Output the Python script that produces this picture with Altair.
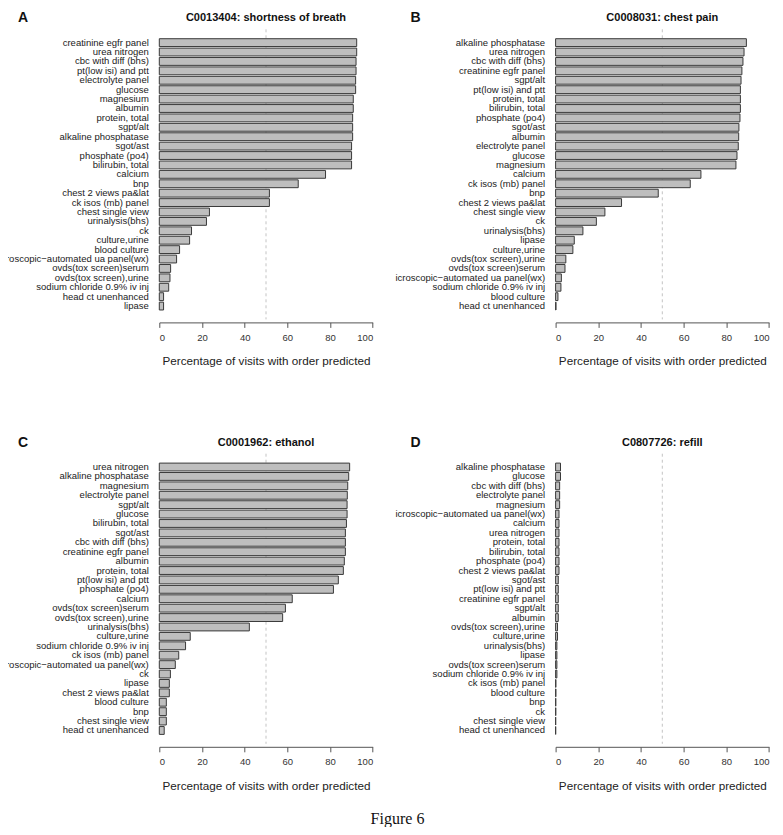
import altair as alt
import pandas as pd

# ---------------- data ----------------
A_labels = ["creatinine egfr panel", "urea nitrogen", "cbc with diff (bhs)\u00a0", "pt(low isi) and ptt",
            "electrolyte panel", "glucose", "magnesium", "albumin", "protein, total", "sgpt/alt",
            "alkaline phosphatase", "sgot/ast", "phosphate (po4)", "bilirubin, total", "calcium", "bnp",
            "chest 2 views pa&lat", "ck isos (mb) panel", "chest single view", "urinalysis(bhs)", "ck\u00a0",
            "culture,urine", "blood culture", "icroscopic\u2212automated ua panel(wx)", "ovds(tox screen)serum",
            "ovds(tox screen),urine", "sodium chloride 0.9% iv inj\u00a0", "head ct unenhanced", "lipase"]
A_values = [92.5, 92.5, 92.2, 92.2, 92.0, 92.0, 90.9, 90.9, 90.6, 90.6, 90.6, 90.1, 90.1, 90.1, 77.9, 65.1,
            51.6, 51.6, 23.5, 22.1, 15.1, 14.2, 9.5, 8.1, 5.3, 5.0, 4.4, 2.0, 2.0]

B_labels = ["alkaline phosphatase", "urea nitrogen", "cbc with diff (bhs)\u00a0", "creatinine egfr panel",
            "sgpt/alt", "pt(low isi) and ptt", "protein, total", "bilirubin, total", "phosphate (po4)",
            "sgot/ast", "albumin", "electrolyte panel", "glucose", "magnesium", "calcium", "ck isos (mb) panel",
            "bnp", "chest 2 views pa&lat", "chest single view", "ck\u00a0", "urinalysis(bhs)", "lipase",
            "culture,urine", "ovds(tox screen),urine", "ovds(tox screen)serum",
            "icroscopic\u2212automated ua panel(wx)", "sodium chloride 0.9% iv inj\u00a0", "blood culture",
            "head ct unenhanced"]
B_values = [89.4, 88.3, 87.8, 87.3, 86.9, 86.6, 86.6, 86.6, 86.4, 85.9, 85.8, 85.6, 85.0, 84.5, 68.1, 63.1,
            48.1, 30.9, 23.1, 19.1, 12.8, 8.75, 8.1, 4.8, 4.4, 2.7, 2.5, 1.1, 0.2]

C_labels = ["urea nitrogen", "alkaline phosphatase", "magnesium", "electrolyte panel", "sgpt/alt", "glucose",
            "bilirubin, total", "sgot/ast", "cbc with diff (bhs)\u00a0", "creatinine egfr panel", "albumin",
            "protein, total", "pt(low isi) and ptt", "phosphate (po4)", "calcium", "ovds(tox screen)serum",
            "ovds(tox screen),urine", "urinalysis(bhs)", "culture,urine", "sodium chloride 0.9% iv inj\u00a0",
            "ck isos (mb) panel", "icroscopic\u2212automated ua panel(wx)", "ck\u00a0", "lipase",
            "chest 2 views pa&lat", "blood culture", "bnp", "chest single view", "head ct unenhanced"]
C_values = [89.2, 88.75, 88.3, 88.1, 88.0, 88.0, 87.7, 87.2, 87.2, 87.2, 86.7, 86.25, 83.9, 81.6, 62.3, 59.1,
            57.8, 42.2, 14.5, 12.3, 9.1, 7.5, 5.2, 4.7, 4.7, 3.3, 3.3, 3.3, 2.3]

D_labels = ["alkaline phosphatase", "glucose", "cbc with diff (bhs)\u00a0", "electrolyte panel", "magnesium",
            "icroscopic\u2212automated ua panel(wx)", "calcium", "urea nitrogen", "protein, total",
            "bilirubin, total", "phosphate (po4)", "chest 2 views pa&lat", "sgot/ast", "pt(low isi) and ptt",
            "creatinine egfr panel", "sgpt/alt", "albumin", "ovds(tox screen),urine", "culture,urine",
            "urinalysis(bhs)", "lipase", "ovds(tox screen)serum", "sodium chloride 0.9% iv inj\u00a0",
            "ck isos (mb) panel", "blood culture", "bnp", "ck\u00a0", "chest single view", "head ct unenhanced"]
D_values = [2.3, 2.3, 1.9, 1.9, 1.9, 1.6, 1.6, 1.6, 1.6, 1.6, 1.6, 1.6, 1.25, 1.25, 1.25, 1.25, 1.25, 0.9, 0.9,
            0.6, 0.6, 0.6, 0.6, 0.15, 0.15, 0.1, 0.1, 0.05, 0.05]

panel_letters = ["A", "B", "C", "D"]
panel_titles = ["C0013404: shortness of breath", "C0008031: chest pain", "C0001962: ethanol", "C0807726: refill"]
x_ticks = [0, 20, 40, 60, 80, 100]
threshold = [50]
x_title = "Percentage of visits with order predicted"
caption = "Figure 6"

# ---------------- layout ----------------
W = 213.4
H = 290.1
FONT = "Liberation Sans"


def panel(letter, title, labels, values, letter_x, with_caption=False):
    df = pd.DataFrame({"order": labels, "pct": values})
    xscale = alt.Scale(domain=[0, 100], nice=False, zero=True)
    xaxis = alt.Axis(values=x_ticks, title=x_title, grid=False, domainColor="#555555",
                     tickColor="#555555", tickSize=5, offset=3, labelFont=FONT, labelFontSize=9.5,
                     labelColor="#333333", labelPadding=5, titleFont=FONT, titleFontSize=11.7,
                     titleFontWeight="normal", titleColor="#222222", titlePadding=14)
    bars = alt.Chart(df).mark_bar(fill="#bebebe", stroke="#3a3a3a", strokeWidth=1).encode(
        x=alt.X("pct:Q", scale=xscale, axis=xaxis),
        y=alt.Y("order:N", sort=labels,
                scale=alt.Scale(paddingInner=0.167, paddingOuter=1, align=0.5),
                axis=alt.Axis(title=None, domain=False, ticks=False, labelFont=FONT, labelFontSize=9.5,
                              labelColor="#222222", labelPadding=11, labelLimit=400)),
    )
    rule = alt.Chart(pd.DataFrame({"pct": threshold})).mark_rule(
        color="#c4c4c4", strokeDash=[3, 3], strokeWidth=1).encode(x=alt.X("pct:Q", scale=xscale, axis=xaxis))
    ttl = alt.Chart(pd.DataFrame({"t": [title]})).mark_text(
        font=FONT, fontSize=11, fontWeight="bold", align="center", baseline="alphabetic", color="#111111"
    ).encode(text="t:N", x=alt.value(W / 2), y=alt.value(-8))
    let = alt.Chart(pd.DataFrame({"t": [letter]})).mark_text(
        font=FONT, fontSize=14, fontWeight="bold", align="left", baseline="alphabetic", color="#111111"
    ).encode(text="t:N", x=alt.value(letter_x), y=alt.value(-7))
    layers = [rule, bars, ttl, let]
    if with_caption:
        cap = alt.Chart(pd.DataFrame({"t": [caption]})).mark_text(
            font="Liberation Serif", fontSize=16, align="center", baseline="alphabetic", color="#111111"
        ).encode(text="t:N", x=alt.value(238.2), y=alt.value(370.3))
        layers.append(cap)
    return alt.layer(*layers).properties(width=W, height=H)


pA = panel(panel_letters[0], panel_titles[0], A_labels, A_values, -141.3)
pB = panel(panel_letters[1], panel_titles[1], B_labels, B_values, -145)
pC = panel(panel_letters[2], panel_titles[2], C_labels, C_values, -141.3, with_caption=True)
pD = panel(panel_letters[3], panel_titles[3], D_labels, D_values, -145)

chart = alt.concat(pA, pB, pC, pD, columns=2, spacing={"row": 133.4, "column": 182.3},
                   bounds="flush").properties(
    autosize=alt.AutoSizeParams(type="none"),
    padding={"left": 151.3, "top": 21.3, "right": 615.7, "bottom": 797.7},
).configure_view(stroke=None)

chart.save("out.html", embed_options={"renderer": "svg", "actions": False})
